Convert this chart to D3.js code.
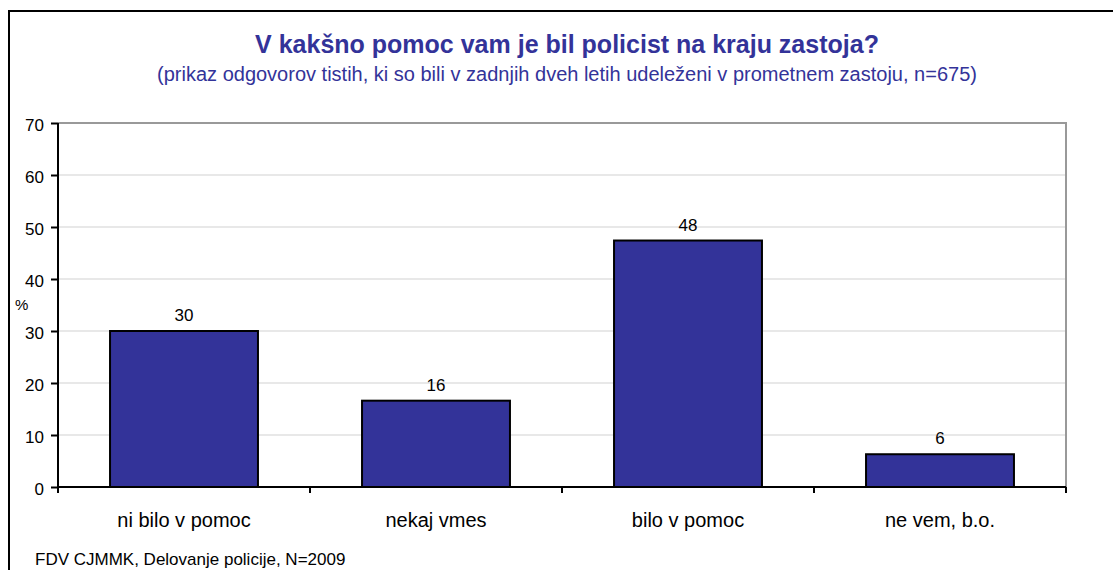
<!DOCTYPE html>
<html>
<head>
<meta charset="utf-8">
<script src="https://cdn.jsdelivr.net/npm/d3@7"></script>
<style>
body{margin:0;background:#fff;}
.chart{width:1113px;height:570px;}
text{font-family:Arial, "Liberation Sans", sans-serif;}
</style>
</head>
<body>
<div class="chart"></div>
<script>
//Data
const categories = ['ni bilo v pomoc', 'nekaj vmes', 'bilo v pomoc', 'ne vem, b.o.'];
const values = [30.0, 16.6, 47.4, 6.3];
const valueLabels = ['30', '16', '48', '6'];
const yTicks = [0, 10, 20, 30, 40, 50, 60, 70];
const titleText = 'V kakšno pomoc vam je bil policist na kraju zastoja?';
const subtitleText = '(prikaz odgovorov tistih, ki so bili v zadnjih dveh letih udeleženi v prometnem zastoju, n=675)';
const sourceText = 'FDV CJMMK, Delovanje policije, N=2009';

const W = 1113, H = 570;
const margin = {t:123, r:47, b:83, l:58};
const w = W - margin.l - margin.r;
const h = H - margin.t - margin.b;

const svg = d3.select('.chart').append('svg')
	.attr('width', W)
	.attr('height', H);

//outer frame
svg.append('rect')
	.attr('x', 9).attr('y', 11)
	.attr('width', W + 10).attr('height', H + 10)
	.style('fill', 'none')
	.style('stroke', '#000')
	.style('stroke-width', 2);

svg.append('text')
	.attr('x', 567).attr('y', 53)
	.attr('text-anchor', 'middle')
	.style('font-size', '25px').style('font-weight', 'bold')
	.style('fill', '#333399')
	.text(titleText);

svg.append('text')
	.attr('x', 567).attr('y', 81)
	.attr('text-anchor', 'middle')
	.style('font-size', '20px')
	.style('fill', '#333399')
	.text(subtitleText);

const plot = svg.append('g')
	.attr('transform', `translate(${margin.l}, ${margin.t})`);

const scaleX = d3.scaleBand().domain(categories).range([0, w]).paddingInner(0.413).paddingOuter(0.2065);
const scaleY = d3.scaleLinear().domain([0, 70]).range([h, 0]);

//gridlines
plot.selectAll('.grid')
	.data(yTicks.filter(d => d > 0 && d < 70))
	.enter().append('line')
	.attr('x1', 0).attr('x2', w)
	.attr('y1', d => scaleY(d)).attr('y2', d => scaleY(d))
	.style('stroke', '#e0e0e0').style('stroke-width', 1.5);

//plot area border top/right
plot.append('path')
	.attr('d', `M0,${scaleY(70)}H${w}V${h}`)
	.style('fill', 'none').style('stroke', '#999').style('stroke-width', 2);

//bars
plot.selectAll('.bar')
	.data(values)
	.enter().append('rect')
	.attr('class', 'bar')
	.attr('x', (d, i) => scaleX(categories[i]))
	.attr('y', d => scaleY(d))
	.attr('width', scaleX.bandwidth())
	.attr('height', d => h - scaleY(d))
	.style('fill', '#333399')
	.style('stroke', '#000').style('stroke-width', 2);

plot.selectAll('.vlabel')
	.data(values)
	.enter().append('text')
	.attr('x', (d, i) => scaleX(categories[i]) + scaleX.bandwidth() / 2)
	.attr('y', d => scaleY(d) - 10)
	.attr('text-anchor', 'middle')
	.style('font-size', '17px').style('fill', '#000')
	.text((d, i) => valueLabels[i]);

//y axis
const yAxis = plot.append('g')
	.call(d3.axisLeft(scaleY).tickValues(yTicks).tickSize(7).tickPadding(7));
yAxis.select('.domain').style('stroke-width', 2).attr('d', `M0,${h}V${scaleY(70)}`);
yAxis.selectAll('.tick line').style('stroke-width', 2);
yAxis.selectAll('.tick text').style('font-size', '17px').attr('dy', '0.45em').attr('font-family', null);

//x axis
const xAxis = plot.append('g')
	.attr('transform', `translate(0, ${h})`);
xAxis.append('line')
	.attr('x1', 0).attr('x2', w)
	.style('stroke', '#000').style('stroke-width', 2);
xAxis.selectAll('.xtick')
	.data(d3.range(categories.length + 1))
	.enter().append('line')
	.attr('x1', d => d * w / categories.length).attr('x2', d => d * w / categories.length)
	.attr('y1', 0).attr('y2', 6)
	.style('stroke', '#000').style('stroke-width', 2);
xAxis.selectAll('.xlabel')
	.data(categories)
	.enter().append('text')
	.attr('x', d => scaleX(d) + scaleX.bandwidth() / 2)
	.attr('y', 40)
	.attr('text-anchor', 'middle')
	.style('font-size', '20px').style('fill', '#000')
	.text(d => d);

svg.append('text')
	.attr('x', 15).attr('y', 310)
	.style('font-size', '15px')
	.text('%');

svg.append('text')
	.attr('x', 35).attr('y', 565)
	.style('font-size', '17px')
	.text(sourceText);
</script>
</body>
</html>
